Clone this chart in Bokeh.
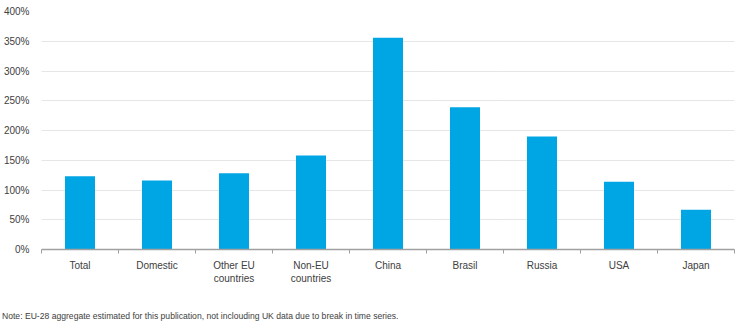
import numpy as np
from bokeh.plotting import figure
from bokeh.layouts import column
from bokeh.models import FixedTicker, Div, Range1d, ColumnDataSource
from bokeh.embed import file_html
from bokeh.resources import INLINE

categories = ["Total", "Domestic", "Other EU\ncountries", "Non-EU\ncountries",
              "China", "Brasil", "Russia", "USA", "Japan"]
values = [123, 116, 128, 158, 356, 239, 190, 114, 67]
y_ticks = [0, 50, 100, 150, 200, 250, 300, 350, 400]
note = "Note: EU-28 aggregate estimated for this publication, not inclouding UK data due to break in time series."

FONT = "Liberation Sans"
TXT = "#404040"

centers = [i + 0.5 for i in range(len(categories))]
src = ColumnDataSource(dict(x=centers, top=values))

p = figure(width=750, height=290, output_backend="svg", toolbar_location=None,
           x_range=Range1d(0, len(categories)), y_range=Range1d(0, 400),
           min_border_left=41, min_border_right=16, min_border_top=11,
           min_border_bottom=41, margin=(0, 0, 0, 0))
p.outline_line_color = None
p.background_fill_color = "white"
p.border_fill_color = "white"

p.vbar(x="x", top="top", width=0.39, source=src, color="#00A5E3", line_color=None)

# x axis
xa = p.xaxis[0]
xa.ticker = FixedTicker(ticks=centers, minor_ticks=list(range(len(categories) + 1)))
xa.major_label_overrides = {c: lab for c, lab in zip(centers, categories)}
xa.major_tick_out = 0
xa.major_tick_in = 0
xa.minor_tick_out = 4
xa.minor_tick_in = 0
xa.minor_tick_line_color = "#a0a0a0"
xa.axis_line_color = "#a0a0a0"
xa.axis_line_width = 1.5
xa.major_label_text_font = FONT
xa.major_label_text_font_size = "10px"
xa.major_label_text_color = TXT
xa.major_label_standoff = 6

# y axis
ya = p.yaxis[0]
ya.ticker = FixedTicker(ticks=y_ticks)
ya.major_label_overrides = {t: f"{t}%" for t in y_ticks}
ya.axis_line_color = None
ya.major_tick_line_color = None
ya.minor_tick_line_color = None
ya.major_label_text_font = FONT
ya.major_label_text_font_size = "10px"
ya.major_label_text_color = TXT
ya.major_label_standoff = 6

p.xgrid.grid_line_color = None
p.ygrid.grid_line_color = "#cccccc"
p.ygrid.grid_line_dash = "1 1"
p.ygrid.ticker = FixedTicker(ticks=y_ticks)

div = Div(text=note, width=750, height=33, margin=(0, 0, 0, 0),
          styles={"font-family": FONT, "font-size": "8.6px", "color": TXT,
                  "padding-left": "2px", "padding-top": "21px",
                  "line-height": "10px", "box-sizing": "border-box",
                  "background-color": "white"})

layout = column(p, div, spacing=0, margin=(0, 0, 0, 0))

open("out.html", "w").write(file_html(layout, INLINE))
